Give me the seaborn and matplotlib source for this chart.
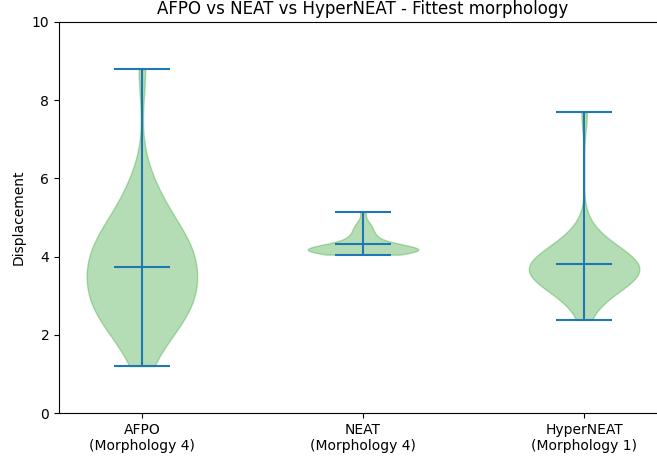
import numpy as np
import pandas as pd
import matplotlib
matplotlib.use("Agg")
import matplotlib.pyplot as plt
import seaborn as sns

categories = ["AFPO\n(Morphology 4)", "NEAT\n(Morphology 4)", "HyperNEAT\n(Morphology 1)"]

afpo = [1.2, 1.7, 2.0, 2.2, 2.3, 2.4, 2.5, 2.6, 2.7, 2.8,
        2.9, 3.0, 3.1, 3.2, 3.3, 3.4, 3.5, 3.6, 3.7, 3.8,
        3.9, 4.0, 4.1, 4.2, 4.3, 4.4, 4.5, 4.6, 4.7, 4.8,
        5.1, 5.4, 5.6, 6.0, 8.8]
neat = [4.05, 4.08, 4.1, 4.11, 4.12, 4.13, 4.14, 4.15, 4.15, 4.16,
        4.16, 4.17, 4.17, 4.18, 4.18, 4.19, 4.19, 4.2, 4.21, 4.22,
        4.24, 4.26, 4.28, 4.31, 4.35, 4.4, 4.45, 4.5, 4.56, 4.63,
        4.7, 4.8, 4.85, 5.15]
hyperneat = [2.38, 2.9, 3.05, 3.15, 3.25, 3.35, 3.4, 3.45, 3.5, 3.55,
             3.57, 3.6, 3.65, 3.67, 3.7, 3.73, 3.75, 3.8, 3.85, 3.9,
             3.95, 4.0, 4.05, 4.15, 4.25, 4.4, 4.65, 7.7]

series = [afpo, neat, hyperneat]
df = pd.DataFrame({
    "group": np.repeat(categories, [len(s) for s in series]),
    "value": np.concatenate([np.asarray(s, float) for s in series]),
})

fig = plt.figure(figsize=(6.57, 4.61), dpi=100)
ax = fig.add_axes([59 / 657, 48 / 461, 608 / 657, 391 / 461])

green = "#2ca02c"
sns.violinplot(data=df, x="group", y="value", order=categories, ax=ax,
               color=green, saturation=1, inner=None, cut=0,
               density_norm="width", width=0.5, bw_method="scott",
               linewidth=1, linecolor=green, alpha=0.35)

blue = "#1f77b4"
for i, s in enumerate(series):
    arr = np.asarray(s, float)
    lo, hi, mu = arr.min(), arr.max(), arr.mean()
    ax.vlines(i, lo, hi, color=blue, lw=1.5)
    ax.hlines([lo, hi, mu], i - 0.125, i + 0.125, color=blue, lw=1.5)

ax.set_xlim(-0.375, 2.375)
ax.set_ylim(0, 10)
ax.set_yticks([0, 2, 4, 6, 8, 10])
ax.set_xticks(range(3))
ax.set_xticklabels(categories)
ax.set_xlabel("")
ax.set_ylabel("Displacement")
ax.set_title("AFPO vs NEAT vs HyperNEAT - Fittest morphology")
for sp in ax.spines.values():
    sp.set_visible(True)

fig.savefig("out.png", dpi=100)
